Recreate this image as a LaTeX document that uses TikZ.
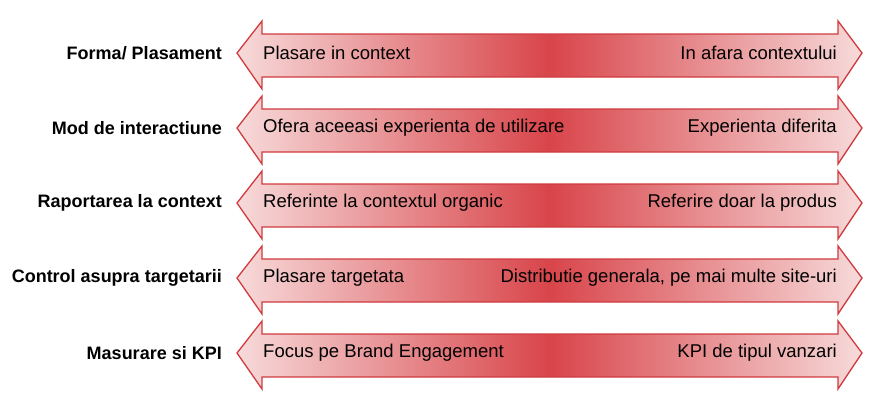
\documentclass[tikz,border=0pt]{standalone}
\usepackage{fontspec}
\setmainfont{Liberation Sans}
\definecolor{lite}{HTML}{F7DADA}
\definecolor{dark}{HTML}{D8454A}
\definecolor{edge}{HTML}{CF3B3F}
\begin{document}
\begin{tikzpicture}[x=1pt,y=-1pt,
  lab/.style={anchor=east,font=\bfseries\fontsize{18}{20}\selectfont,inner sep=0pt},
  txt/.style={font=\fontsize{18.5}{21}\selectfont,inner sep=0pt},
  arr/.style={draw=edge,line width=1.3pt,line join=miter,left color=lite,right color=lite,middle color=dark}]
\useasboundingbox (0,0) rectangle (893,407);
\foreach \i/\l/\a/\b in {0/{Forma/ Plasament}/Plasare in context/In afara contextului,
  1/Mod de interactiune/Ofera aceeasi experienta de utilizare/Experienta diferita,
  2/Raportarea la context/Referinte la contextul organic/Referire doar la produs,
  3/Control asupra targetarii/Plasare targetata/{Distributie generala, pe mai multe site-uri},
  4/Masurare si KPI/Focus pe Brand Engagement/KPI de tipul vanzari}{
  \pgfmathsetmacro{\c}{53+75*\i}
  \shade[arr] (237,\c) -- (262,\c-32) -- (262,\c-19) -- (838,\c-19) -- (838,\c-32) -- (862,\c)
     -- (838,\c+36) -- (838,\c+24) -- (262,\c+24) -- (262,\c+36) -- cycle;
  \node[lab] (L\i) at (222,\c) {\l};
  \node[txt,anchor=west] (A\i) at (263,\c) {\a};
  \node[txt,anchor=east] (B\i) at (837,\c) {\b};
}
\end{tikzpicture}
\end{document}
